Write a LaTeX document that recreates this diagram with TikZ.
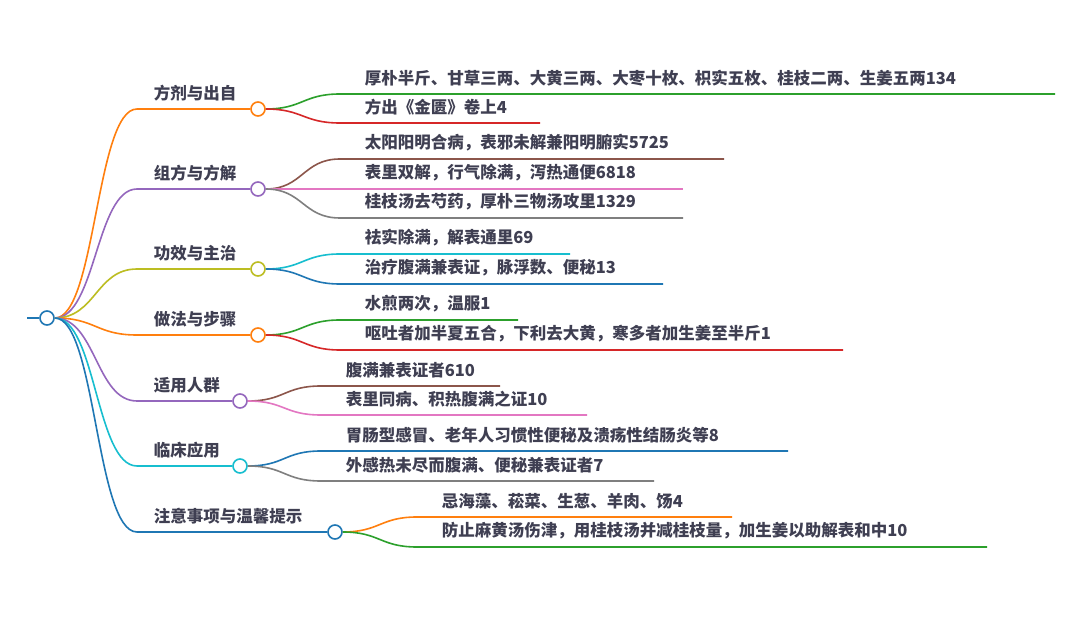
\documentclass[tikz,border=0pt]{standalone}
\usepackage{fontspec}
\newfontfamily\cjk{Noto Sans CJK SC}
\usetikzlibrary{positioning}

\definecolor{ink}{HTML}{3F3F52}
\definecolor{mmblue}{HTML}{1F77B4}
\definecolor{mmorange}{HTML}{FF7F0E}
\definecolor{mmgreen}{HTML}{2CA02C}
\definecolor{mmred}{HTML}{D62728}
\definecolor{mmpurple}{HTML}{9467BD}
\definecolor{mmbrown}{HTML}{8C564B}
\definecolor{mmpink}{HTML}{E377C2}
\definecolor{mmgray}{HTML}{7F7F7F}
\definecolor{mmolive}{HTML}{BCBD22}
\definecolor{mmcyan}{HTML}{17BECF}

\begin{document}
\begin{tikzpicture}[x=1pt, y=-1pt, line width=1.6pt,
    dot/.style={circle, draw, fill=white, minimum size=14pt, inner sep=0pt, line width=1.6pt},
    topic/.style={inner sep=0pt, font=\cjk\bfseries\fontsize{16.5}{18}\selectfont, text=ink},
    leaf/.style={topic},
    branch/.style={out=0, in=180, distance=41pt},
    twig/.style={out=0, in=180, distance=37pt}]
    \useasboundingbox[fill=white] (0,0) rectangle (1080,617);

    % root
    \coordinate (stem) at (27,318);
    \node[dot, draw=mmblue] (root) at (47,318) {};
    \draw[mmblue] (stem) -- (root);

    % main topics
    \coordinate (fangjis) at (137,109);
    \node[dot, draw=mmorange] (fangji) at (258,109) {};
    \node[topic, above right=7pt and 16pt of fangjis] (fangjit) {方剂与出自};
    \draw[mmorange] (root.east) to[branch] (fangjis) -- (fangji);

    \coordinate (zufangs) at (137,189);
    \node[dot, draw=mmpurple] (zufang) at (258,189) {};
    \node[topic, above right=7pt and 16pt of zufangs] (zufangt) {组方与方解};
    \draw[mmpurple] (root.east) to[branch] (zufangs) -- (zufang);

    \coordinate (gongxiaos) at (137,269);
    \node[dot, draw=mmolive] (gongxiao) at (258,269) {};
    \node[topic, above right=7pt and 16pt of gongxiaos] (gongxiaot) {功效与主治};
    \draw[mmolive] (root.east) to[branch] (gongxiaos) -- (gongxiao);

    \coordinate (zuofas) at (137,335);
    \node[dot, draw=mmorange] (zuofa) at (258,335) {};
    \node[topic, above right=7pt and 16pt of zuofas] (zuofat) {做法与步骤};
    \draw[mmorange] (root.east) to[branch] (zuofas) -- (zuofa);

    \coordinate (renquns) at (137,401);
    \node[dot, draw=mmpurple] (renqun) at (240,401) {};
    \node[topic, above right=7pt and 16pt of renquns] (renqunt) {适用人群};
    \draw[mmpurple] (root.east) to[branch] (renquns) -- (renqun);

    \coordinate (linchuangs) at (137,466);
    \node[dot, draw=mmcyan] (linchuang) at (240,466) {};
    \node[topic, above right=7pt and 16pt of linchuangs] (linchuangt) {临床应用};
    \draw[mmcyan] (root.east) to[branch] (linchuangs) -- (linchuang);

    \coordinate (zhuyis) at (137,532);
    \node[dot, draw=mmblue] (zhuyi) at (335,532) {};
    \node[topic, above right=7pt and 16pt of zhuyis] (zhuyit) {注意事项与温馨提示};
    \draw[mmblue] (root.east) to[branch] (zhuyis) -- (zhuyi);

    % 方剂与出自
    \coordinate (fangji1s) at (340,94); \coordinate (fangji1e) at (1055,94);
    \node[leaf, above right=7pt and 24pt of fangji1s] (fangji1) {厚朴半斤、甘草三两、大黄三两、大枣十枚、枳实五枚、桂枝二两、生姜五两134};
    \draw[mmgreen] (fangji.east) to[twig] (fangji1s) -- (fangji1e);
    \coordinate (fangji2s) at (340,123); \coordinate (fangji2e) at (540,123);
    \node[leaf, above right=7pt and 24pt of fangji2s] (fangji2) {方出《金匮》卷上4};
    \draw[mmred] (fangji.east) to[twig] (fangji2s) -- (fangji2e);

    % 组方与方解
    \coordinate (zufang1s) at (340,159); \coordinate (zufang1e) at (724,159);
    \node[leaf, above right=7pt and 24pt of zufang1s] (zufang1) {太阳阳明合病，表邪未解兼阳明腑实5725};
    \draw[mmbrown] (zufang.east) to[twig] (zufang1s) -- (zufang1e);
    \coordinate (zufang2s) at (340,189); \coordinate (zufang2e) at (683,189);
    \node[leaf, above right=7pt and 24pt of zufang2s] (zufang2) {表里双解，行气除满，泻热通便6818};
    \draw[mmpink] (zufang.east) to[twig] (zufang2s) -- (zufang2e);
    \coordinate (zufang3s) at (340,218); \coordinate (zufang3e) at (683,218);
    \node[leaf, above right=7pt and 24pt of zufang3s] (zufang3) {桂枝汤去芍药，厚朴三物汤攻里1329};
    \draw[mmgray] (zufang.east) to[twig] (zufang3s) -- (zufang3e);

    % 功效与主治
    \coordinate (gongxiao1s) at (340,254); \coordinate (gongxiao1e) at (570,254);
    \node[leaf, above right=7pt and 24pt of gongxiao1s] (gongxiao1) {祛实除满，解表通里69};
    \draw[mmcyan] (gongxiao.east) to[twig] (gongxiao1s) -- (gongxiao1e);
    \coordinate (gongxiao2s) at (340,284); \coordinate (gongxiao2e) at (663,284);
    \node[leaf, above right=7pt and 24pt of gongxiao2s] (gongxiao2) {治疗腹满兼表证，脉浮数、便秘13};
    \draw[mmblue] (gongxiao.east) to[twig] (gongxiao2s) -- (gongxiao2e);

    % 做法与步骤
    \coordinate (zuofa1s) at (340,320); \coordinate (zuofa1e) at (518,320);
    \node[leaf, above right=7pt and 24pt of zuofa1s] (zuofa1) {水煎两次，温服1};
    \draw[mmgreen] (zuofa.east) to[twig] (zuofa1s) -- (zuofa1e);
    \coordinate (zuofa2s) at (340,350); \coordinate (zuofa2e) at (843,350);
    \node[leaf, above right=7pt and 24pt of zuofa2s] (zuofa2) {呕吐者加半夏五合，下利去大黄，寒多者加生姜至半斤1};
    \draw[mmred] (zuofa.east) to[twig] (zuofa2s) -- (zuofa2e);

    % 适用人群
    \coordinate (renqun1s) at (321,386); \coordinate (renqun1e) at (500,386);
    \node[leaf, above right=7pt and 24pt of renqun1s] (renqun1) {腹满兼表证者610};
    \draw[mmbrown] (renqun.east) to[twig] (renqun1s) -- (renqun1e);
    \coordinate (renqun2s) at (321,415); \coordinate (renqun2e) at (587,415);
    \node[leaf, above right=7pt and 24pt of renqun2s] (renqun2) {表里同病、积热腹满之证10};
    \draw[mmpink] (renqun.east) to[twig] (renqun2s) -- (renqun2e);

    % 临床应用
    \coordinate (linchuang1s) at (321,451); \coordinate (linchuang1e) at (788,451);
    \node[leaf, above right=7pt and 24pt of linchuang1s] (linchuang1) {胃肠型感冒、老年人习惯性便秘及溃疡性结肠炎等8};
    \draw[mmblue] (linchuang.east) to[twig] (linchuang1s) -- (linchuang1e);
    \coordinate (linchuang2s) at (321,481); \coordinate (linchuang2e) at (654,481);
    \node[leaf, above right=7pt and 24pt of linchuang2s] (linchuang2) {外感热未尽而腹满、便秘兼表证者7};
    \draw[mmgray] (linchuang.east) to[twig] (linchuang2s) -- (linchuang2e);

    % 注意事项与温馨提示
    \coordinate (zhuyi1s) at (417,517); \coordinate (zhuyi1e) at (732,517);
    \node[leaf, above right=7pt and 24pt of zhuyi1s] (zhuyi1) {忌海藻、菘菜、生葱、羊肉、饧4};
    \draw[mmorange] (zhuyi.east) to[twig] (zhuyi1s) -- (zhuyi1e);
    \coordinate (zhuyi2s) at (417,547); \coordinate (zhuyi2e) at (987,547);
    \node[leaf, above right=7pt and 24pt of zhuyi2s] (zhuyi2) {防止麻黄汤伤津，用桂枝汤并减桂枝量，加生姜以助解表和中10};
    \draw[mmgreen] (zhuyi.east) to[twig] (zhuyi2s) -- (zhuyi2e);
\end{tikzpicture}
\end{document}
